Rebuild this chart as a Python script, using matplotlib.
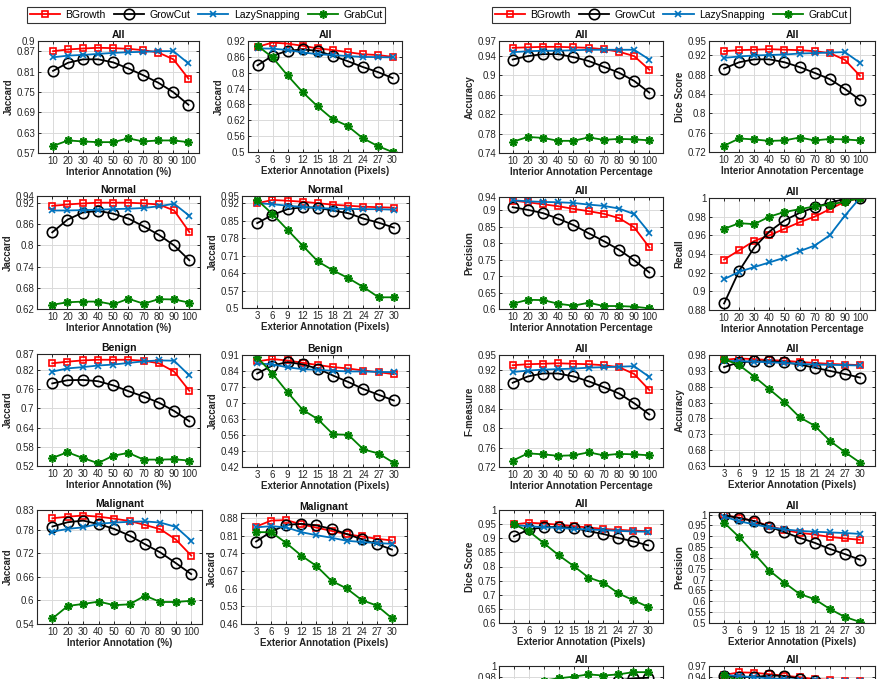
import matplotlib
matplotlib.use("Agg")
import matplotlib.pyplot as plt

plt.rcParams['font.family'] = ['Liberation Sans', 'DejaVu Sans']

W, H = 884, 679

methods = ['BGrowth', 'GrowCut', 'LazySnapping', 'GrabCut']
interior = [10, 20, 30, 40, 50, 60, 70, 80, 90, 100]
exterior = [3, 6, 9, 12, 15, 18, 21, 24, 27, 30]

# each panel: [BGrowth, GrowCut, LazySnapping, GrabCut]
jac_all_int = [
    [0.870, 0.875, 0.878, 0.880, 0.879, 0.877, 0.873, 0.866, 0.846, 0.789],
    [0.812, 0.836, 0.846, 0.846, 0.837, 0.819, 0.799, 0.777, 0.749, 0.712],
    [0.852, 0.857, 0.859, 0.862, 0.865, 0.867, 0.868, 0.870, 0.870, 0.834],
    [0.591, 0.607, 0.604, 0.602, 0.602, 0.613, 0.604, 0.607, 0.607, 0.602],
]
jac_all_ext = [
    [0.898, 0.914, 0.910, 0.902, 0.892, 0.886, 0.878, 0.870, 0.867, 0.860],
    [0.828, 0.864, 0.883, 0.888, 0.883, 0.864, 0.844, 0.822, 0.803, 0.780],
    [0.892, 0.891, 0.886, 0.877, 0.870, 0.867, 0.863, 0.860, 0.859, 0.858],
    [0.902, 0.858, 0.790, 0.727, 0.673, 0.625, 0.599, 0.553, 0.523, 0.500],
]
jac_normal_int = [
    [0.912, 0.916, 0.919, 0.921, 0.921, 0.921, 0.919, 0.916, 0.899, 0.838],
    [0.837, 0.873, 0.893, 0.898, 0.890, 0.876, 0.854, 0.830, 0.800, 0.758],
    [0.899, 0.899, 0.900, 0.901, 0.903, 0.904, 0.906, 0.911, 0.918, 0.884],
    [0.632, 0.639, 0.641, 0.641, 0.633, 0.649, 0.635, 0.648, 0.647, 0.638],
]
jac_normal_ext = [
    [0.921, 0.934, 0.931, 0.927, 0.921, 0.915, 0.911, 0.907, 0.905, 0.903],
    [0.841, 0.874, 0.897, 0.905, 0.903, 0.891, 0.881, 0.859, 0.843, 0.823],
    [0.921, 0.917, 0.911, 0.906, 0.902, 0.899, 0.898, 0.897, 0.897, 0.895],
    [0.934, 0.878, 0.814, 0.750, 0.687, 0.651, 0.620, 0.584, 0.543, 0.543],
]
jac_benign_int = [
    [0.841, 0.846, 0.850, 0.852, 0.852, 0.852, 0.849, 0.841, 0.815, 0.755],
    [0.778, 0.788, 0.789, 0.785, 0.772, 0.754, 0.737, 0.718, 0.692, 0.660],
    [0.815, 0.825, 0.829, 0.834, 0.837, 0.842, 0.847, 0.850, 0.849, 0.803],
    [0.545, 0.563, 0.545, 0.529, 0.552, 0.561, 0.540, 0.540, 0.541, 0.537],
]
jac_benign_ext = [
    [0.882, 0.892, 0.886, 0.876, 0.866, 0.857, 0.851, 0.842, 0.835, 0.826],
    [0.829, 0.864, 0.879, 0.869, 0.850, 0.820, 0.792, 0.761, 0.736, 0.711],
    [0.873, 0.869, 0.856, 0.848, 0.845, 0.841, 0.838, 0.838, 0.836, 0.835],
    [0.900, 0.829, 0.747, 0.670, 0.629, 0.563, 0.561, 0.497, 0.479, 0.438],
]
jac_malig_int = [
    [0.809, 0.813, 0.816, 0.813, 0.808, 0.802, 0.792, 0.781, 0.755, 0.714],
    [0.788, 0.799, 0.803, 0.794, 0.782, 0.765, 0.743, 0.722, 0.695, 0.667],
    [0.775, 0.782, 0.786, 0.795, 0.798, 0.800, 0.801, 0.798, 0.787, 0.752],
    [0.554, 0.586, 0.591, 0.597, 0.588, 0.590, 0.612, 0.596, 0.596, 0.599],
]
jac_malig_ext = [
    [0.846, 0.870, 0.872, 0.855, 0.842, 0.829, 0.816, 0.807, 0.798, 0.791],
    [0.787, 0.826, 0.853, 0.857, 0.851, 0.837, 0.817, 0.796, 0.777, 0.755],
    [0.843, 0.848, 0.843, 0.824, 0.812, 0.802, 0.790, 0.785, 0.781, 0.778],
    [0.824, 0.824, 0.781, 0.731, 0.690, 0.631, 0.601, 0.555, 0.533, 0.483],
]
acc_int = [
    [0.956, 0.957, 0.958, 0.958, 0.957, 0.956, 0.953, 0.948, 0.939, 0.911],
    [0.932, 0.939, 0.943, 0.943, 0.937, 0.929, 0.917, 0.905, 0.888, 0.864],
    [0.947, 0.949, 0.950, 0.950, 0.951, 0.952, 0.952, 0.952, 0.952, 0.932],
    [0.763, 0.773, 0.771, 0.765, 0.765, 0.772, 0.767, 0.769, 0.768, 0.766],
]
dice_int = [
    [0.929, 0.931, 0.932, 0.933, 0.932, 0.931, 0.929, 0.925, 0.911, 0.878],
    [0.893, 0.906, 0.912, 0.912, 0.906, 0.896, 0.884, 0.871, 0.851, 0.828],
    [0.915, 0.918, 0.920, 0.921, 0.922, 0.924, 0.925, 0.926, 0.927, 0.905],
    [0.733, 0.748, 0.746, 0.743, 0.744, 0.750, 0.744, 0.747, 0.746, 0.744],
]
prec_int = [
    [0.929, 0.924, 0.918, 0.912, 0.904, 0.897, 0.889, 0.876, 0.848, 0.787],
    [0.909, 0.901, 0.891, 0.874, 0.855, 0.830, 0.806, 0.780, 0.748, 0.711],
    [0.930, 0.927, 0.925, 0.924, 0.922, 0.917, 0.913, 0.905, 0.888, 0.832],
    [0.616, 0.628, 0.627, 0.616, 0.610, 0.619, 0.609, 0.609, 0.607, 0.602],
]
recall_int = [
    [0.934, 0.944, 0.954, 0.960, 0.967, 0.974, 0.980, 0.988, 0.996, 1.000],
    [0.887, 0.922, 0.947, 0.964, 0.976, 0.984, 0.990, 0.995, 0.999, 1.000],
    [0.913, 0.921, 0.926, 0.931, 0.936, 0.943, 0.949, 0.960, 0.981, 1.000],
    [0.967, 0.973, 0.972, 0.980, 0.985, 0.988, 0.991, 0.993, 0.996, 1.000],
]
fmeas_int = dice_int  # F-measure and Dice coincide
acc_ext = [
    [0.965, 0.969, 0.967, 0.964, 0.962, 0.958, 0.955, 0.952, 0.950, 0.948],
    [0.942, 0.957, 0.960, 0.960, 0.957, 0.950, 0.940, 0.930, 0.920, 0.909],
    [0.961, 0.961, 0.959, 0.957, 0.955, 0.952, 0.950, 0.949, 0.948, 0.947],
    [0.967, 0.948, 0.912, 0.872, 0.832, 0.784, 0.757, 0.710, 0.674, 0.641],
]
dice_ext = [
    [0.949, 0.955, 0.952, 0.948, 0.943, 0.938, 0.933, 0.930, 0.927, 0.925],
    [0.907, 0.931, 0.939, 0.940, 0.937, 0.925, 0.915, 0.901, 0.889, 0.875],
    [0.946, 0.943, 0.939, 0.937, 0.933, 0.931, 0.929, 0.926, 0.924, 0.923],
    [0.949, 0.925, 0.883, 0.840, 0.802, 0.761, 0.743, 0.705, 0.681, 0.657],
]
prec_ext = [
    [0.997, 0.986, 0.970, 0.947, 0.929, 0.916, 0.908, 0.897, 0.890, 0.884],
    [0.997, 0.984, 0.970, 0.944, 0.919, 0.893, 0.870, 0.842, 0.818, 0.792],
    [0.991, 0.969, 0.955, 0.941, 0.932, 0.925, 0.921, 0.918, 0.915, 0.911],
    [0.963, 0.896, 0.820, 0.742, 0.686, 0.634, 0.610, 0.565, 0.528, 0.505],
]
recall_ext = [
    [0.940, 0.945, 0.950, 0.953, 0.956, 0.958, 0.960, 0.962, 0.963, 0.965],
    [0.900, 0.920, 0.935, 0.945, 0.955, 0.963, 0.969, 0.974, 0.978, 0.979],
    [0.935, 0.940, 0.945, 0.948, 0.950, 0.952, 0.954, 0.955, 0.956, 0.957],
    [0.955, 0.968, 0.974, 0.978, 0.981, 0.985, 0.983, 0.985, 0.989, 0.989],
]
acc2_ext = [
    [0.946, 0.953, 0.952, 0.948, 0.944, 0.940, 0.935, 0.933, 0.931, 0.930],
    [0.943, 0.941, 0.940, 0.945, 0.943, 0.936, 0.930, 0.920, 0.910, 0.900],
    [0.946, 0.943, 0.940, 0.937, 0.935, 0.933, 0.932, 0.931, 0.930, 0.929],
    [0.946, 0.930, 0.900, 0.870, 0.840, 0.810, 0.780, 0.750, 0.725, 0.700],
]

colors = ['#ff0000', '#000000', '#0072bd', '#008000']
markers = ['s', 'o', 'x', (8, 2, 0)]
msizes = [5, 7.5, 5, 6]

int_lab = 'Interior Annotation (%)'
int_lab2 = 'Interior Annotation Percentage'
ext_lab = 'Exterior Annotation (Pixels)'

# (box px: x0, y0, x1, y1), title, ylabel, xlabel, xvals, data, ylim, yticks, xlim
panels = [
    ((38, 41, 199, 153), 'All', 'Jaccard', int_lab, interior, jac_all_int,
     (0.57, 0.9), [0.57, 0.63, 0.69, 0.75, 0.81, 0.87, 0.9], (0, 107)),
    ((248, 41, 402, 152), 'All', 'Jaccard', ext_lab, exterior, jac_all_ext,
     (0.5, 0.92), [0.5, 0.56, 0.62, 0.68, 0.74, 0.8, 0.86, 0.92], (1.1, 31.9)),
    ((37, 196, 200, 309), 'Normal', 'Jaccard', int_lab, interior, jac_normal_int,
     (0.62, 0.94), [0.62, 0.68, 0.74, 0.8, 0.86, 0.92, 0.94], (0, 107)),
    ((242, 196, 409, 308), 'Normal', 'Jaccard', ext_lab, exterior, jac_normal_ext,
     (0.5, 0.95), [0.5, 0.57, 0.64, 0.71, 0.78, 0.85, 0.92, 0.95], (0, 33)),
    ((37, 354, 200, 466), 'Benign', 'Jaccard', int_lab, interior, jac_benign_int,
     (0.52, 0.87), [0.52, 0.58, 0.64, 0.7, 0.76, 0.82, 0.87], (0, 107)),
    ((242, 355, 409, 467), 'Benign', 'Jaccard', ext_lab, exterior, jac_benign_ext,
     (0.42, 0.91), [0.42, 0.49, 0.56, 0.63, 0.7, 0.77, 0.84, 0.91], (0, 33)),
    ((37, 510, 202, 624), 'Malignant', 'Jaccard', int_lab, interior, jac_malig_int,
     (0.54, 0.83), [0.54, 0.6, 0.66, 0.72, 0.78, 0.83], (0, 107)),
    ((241, 513, 407, 624), 'Malignant', 'Jaccard', ext_lab, exterior, jac_malig_ext,
     (0.46, 0.9), [0.46, 0.53, 0.6, 0.67, 0.74, 0.81, 0.88], (0, 33)),
    ((499, 41, 663, 153), 'All', 'Accuracy', int_lab2, interior, acc_int,
     (0.74, 0.97), [0.74, 0.78, 0.82, 0.86, 0.9, 0.94, 0.97], (1, 109)),
    ((709, 41, 875, 152), 'All', 'Dice Score', int_lab2, interior, dice_int,
     (0.72, 0.95), [0.72, 0.76, 0.8, 0.84, 0.88, 0.92, 0.95], (0, 110)),
    ((499, 197, 663, 309), 'All', 'Precision', int_lab2, interior, prec_int,
     (0.6, 0.94), [0.6, 0.65, 0.7, 0.75, 0.8, 0.85, 0.9, 0.94], (1, 109)),
    ((709, 198, 875, 310), 'All', 'Recall', int_lab2, interior, recall_int,
     (0.88, 1.0), [0.88, 0.9, 0.92, 0.94, 0.96, 0.98, 1.0], (0, 110)),
    ((499, 355, 663, 467), 'All', 'F-measure', int_lab2, interior, fmeas_int,
     (0.72, 0.95), [0.72, 0.76, 0.8, 0.84, 0.88, 0.92, 0.95], (1, 109)),
    ((709, 355, 875, 466), 'All', 'Accuracy', ext_lab, exterior, acc_ext,
     (0.63, 0.98), [0.63, 0.68, 0.73, 0.78, 0.83, 0.88, 0.93, 0.98], (0, 33)),
    ((499, 510, 663, 623), 'All', 'Dice Score', ext_lab, exterior, dice_ext,
     (0.6, 1.0), [0.6, 0.65, 0.7, 0.75, 0.8, 0.85, 0.9, 0.95, 1.0], (0, 33)),
    ((709, 512, 875, 623), 'All', 'Precision', ext_lab, exterior, prec_ext,
     (0.5, 1.012), [0.5, 0.55, 0.6, 0.65, 0.7, 0.75, 0.8, 0.85, 0.9, 0.95, 1.0], (0, 33)),
    # bottom row: only the top edge falls inside the picture
    ((499, 666, 663, 778), 'All', None, None, exterior, recall_ext,
     (0.8, 1.0), [0.96, 0.98, 1.0], (0, 33)),
    ((709, 666, 875, 778), 'All', None, None, exterior, acc2_ext,
     (0.67, 0.97), [0.91, 0.94, 0.97], (0, 33)),
]

fig = plt.figure(figsize=(W / 100, H / 100), dpi=100)

axis_col = '#262626'
handles = None
for (x0, y0, x1, y1), title, ylab, xlab, xs, data, ylim, yticks, xlim in panels:
    ax = fig.add_axes([x0 / W, 1 - y1 / H, (x1 - x0) / W, (y1 - y0) / H])
    lines = []
    for ys, c, m, ms, name in zip(data, colors, markers, msizes, methods):
        ln, = ax.plot(xs, ys, color=c, marker=m, markersize=ms, lw=1.3,
                      markerfacecolor='none' if m in ('s', 'o') else c,
                      markeredgewidth=1.2, label=name)
        lines.append(ln)
    handles = handles or lines
    ax.set_xlim(*xlim)
    ax.set_ylim(*ylim)
    ax.set_xticks(xs)
    ax.set_yticks(yticks)
    ax.set_yticklabels(['%g' % t for t in yticks])
    ax.grid(True, color='#dadada', lw=0.7)
    ax.set_axisbelow(True)
    ax.tick_params(direction='in', top=True, right=True, length=2.5, width=0.7,
                   labelsize=7, colors=axis_col, pad=2)
    for s in ax.spines.values():
        s.set_color(axis_col)
        s.set_linewidth(0.8)
    ax.set_title(title, fontsize=7.5, fontweight='bold', pad=2, color='#111111')
    if ylab:
        ax.set_ylabel(ylab, fontsize=7, fontweight='bold', color=axis_col, labelpad=2)
    if xlab:
        ax.set_xlabel(xlab, fontsize=7, fontweight='bold', color=axis_col, labelpad=1)
    else:
        ax.tick_params(labelbottom=False)

for cx in (206, 671):
    leg = fig.legend(handles, methods, loc='center', ncol=4,
                     bbox_to_anchor=(cx / W, 1 - 15 / H), fontsize=7.5,
                     frameon=True, fancybox=False, edgecolor='black',
                     handlelength=2.9, columnspacing=0.8, handletextpad=0.5,
                     borderpad=0.25)
    leg.get_frame().set_linewidth(0.8)

fig.savefig('out.png', dpi=100)
